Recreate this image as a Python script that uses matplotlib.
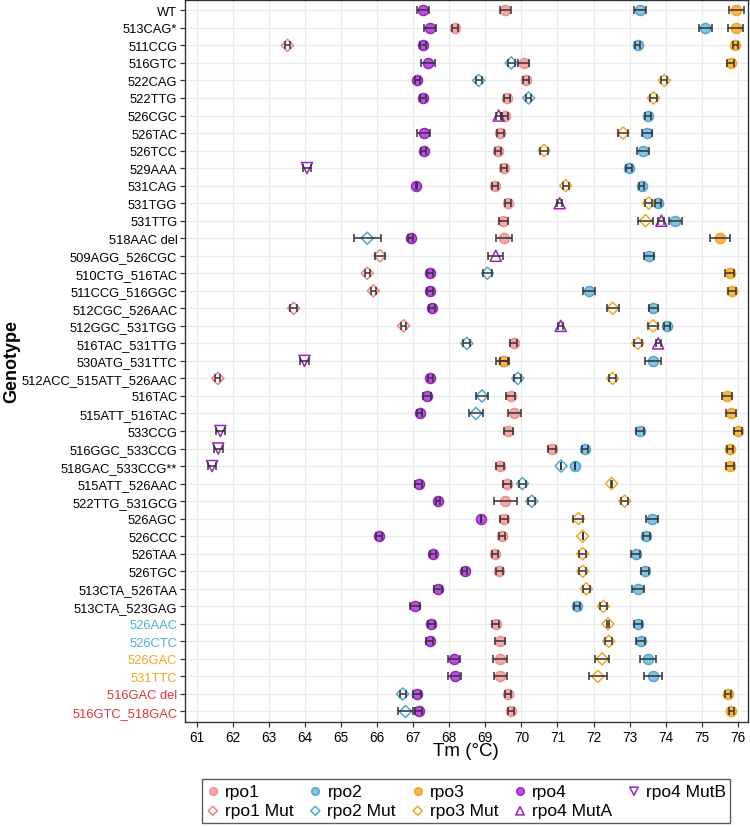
import numpy as np
import matplotlib
matplotlib.use("Agg")
import matplotlib.pyplot as plt

plt.rcParams['font.family'] = ['Liberation Sans', 'DejaVu Sans']

genotypes = ["WT", "513CAG*", "511CCG", "516GTC", "522CAG", "522TTG", "526CGC",
             "526TAC", "526TCC", "529AAA", "531CAG", "531TGG", "531TTG",
             "518AAC del", "509AGG_526CGC", "510CTG_516TAC", "511CCG_516GGC",
             "512CGC_526AAC", "512GGC_531TGG", "516TAC_531TTG", "530ATG_531TTC",
             "512ACC_515ATT_526AAC", "516TAC", "515ATT_516TAC", "533CCG",
             "516GGC_533CCG", "518GAC_533CCG**", "515ATT_526AAC", "522TTG_531GCG",
             "526AGC", "526CCC", "526TAA", "526TGC", "513CTA_526TAA",
             "513CTA_523GAG", "526AAC", "526CTC", "526GAC", "531TTC",
             "516GAC del", "516GTC_518GAC"]

label_colors = {"526AAC": "#4DAFD6", "526CTC": "#4DAFD6",
                "526GAC": "#F5A623", "531TTC": "#F5A623",
                "516GAC del": "#E0363C", "516GTC_518GAC": "#E0363C"}

# (genotype, mean Tm, sd)
rpo1 = [("WT", 69.56, 0.16), ("513CAG*", 68.16, 0.08), ("516GTC", 70.06, 0.14),
        ("522CAG", 70.12, 0.08), ("522TTG", 69.60, 0.08), ("526CGC", 69.55, 0.08),
        ("526TAC", 69.42, 0.09), ("526TCC", 69.36, 0.08), ("529AAA", 69.52, 0.08),
        ("531CAG", 69.26, 0.08), ("531TGG", 69.62, 0.08), ("531TTG", 69.50, 0.13),
        ("518AAC del", 69.52, 0.21), ("516TAC_531TTG", 69.79, 0.10),
        ("530ATG_531TTC", 69.48, 0.18), ("516TAC", 69.70, 0.13),
        ("515ATT_516TAC", 69.81, 0.18), ("533CCG", 69.64, 0.12),
        ("516GGC_533CCG", 70.84, 0.11), ("518GAC_533CCG**", 69.41, 0.12),
        ("515ATT_526AAC", 69.60, 0.10), ("522TTG_531GCG", 69.56, 0.32),
        ("526AGC", 69.52, 0.12), ("526CCC", 69.47, 0.08), ("526TAA", 69.26, 0.08),
        ("526TGC", 69.39, 0.10), ("526AAC", 69.29, 0.10), ("526CTC", 69.41, 0.13),
        ("526GAC", 69.41, 0.20), ("531TTC", 69.42, 0.17),
        ("516GAC del", 69.62, 0.08), ("516GTC_518GAC", 69.71, 0.08)]

rpo2 = [("WT", 73.28, 0.16), ("513CAG*", 75.09, 0.18), ("511CCG", 73.22, 0.08),
        ("526CGC", 73.50, 0.08), ("526TAC", 73.49, 0.14), ("526TCC", 73.37, 0.17),
        ("529AAA", 72.98, 0.08), ("531CAG", 73.33, 0.08), ("531TGG", 73.78, 0.08),
        ("531TTG", 74.27, 0.17), ("509AGG_526CGC", 73.54, 0.13),
        ("511CCG_516GGC", 71.87, 0.17), ("512CGC_526AAC", 73.66, 0.12),
        ("512GGC_531TGG", 74.04, 0.08), ("530ATG_531TTC", 73.64, 0.22),
        ("533CCG", 73.29, 0.12), ("516GGC_533CCG", 71.76, 0.08),
        ("518GAC_533CCG**", 71.49, 0.0), ("526AGC", 73.62, 0.18),
        ("526CCC", 73.46, 0.10), ("526TAA", 73.17, 0.12), ("526TGC", 73.43, 0.12),
        ("513CTA_526TAA", 73.23, 0.16), ("513CTA_523GAG", 71.54, 0.08),
        ("526AAC", 73.23, 0.10), ("526CTC", 73.31, 0.12), ("526GAC", 73.50, 0.22),
        ("531TTC", 73.64, 0.25)]

rpo3 = [("WT", 75.96, 0.22), ("513CAG*", 75.94, 0.21), ("511CCG", 75.93, 0.06),
        ("516GTC", 75.80, 0.10), ("518AAC del", 75.50, 0.28),
        ("510CTG_516TAC", 75.77, 0.12), ("511CCG_516GGC", 75.83, 0.11),
        ("530ATG_531TTC", 69.52, 0.12), ("516TAC", 75.70, 0.14),
        ("515ATT_516TAC", 75.81, 0.13), ("533CCG", 75.99, 0.11),
        ("516GGC_533CCG", 75.79, 0.08), ("518GAC_533CCG**", 75.77, 0.11),
        ("516GAC del", 75.73, 0.08), ("516GTC_518GAC", 75.82, 0.08)]

rpo4 = [("WT", 67.28, 0.16), ("513CAG*", 67.46, 0.17), ("511CCG", 67.28, 0.08),
        ("516GTC", 67.41, 0.19), ("522CAG", 67.12, 0.08), ("522TTG", 67.27, 0.08),
        ("526TAC", 67.29, 0.17), ("526TCC", 67.29, 0.08), ("531CAG", 67.09, 0.02),
        ("518AAC del", 66.93, 0.08), ("510CTG_516TAC", 67.46, 0.08),
        ("511CCG_516GGC", 67.46, 0.08), ("512CGC_526AAC", 67.53, 0.08),
        ("512ACC_515ATT_526AAC", 67.48, 0.08), ("516TAC", 67.38, 0.11),
        ("515ATT_516TAC", 67.18, 0.08), ("515ATT_526AAC", 67.16, 0.10),
        ("522TTG_531GCG", 67.69, 0.05), ("526AGC", 68.89, 0.0),
        ("526CCC", 66.06, 0.08), ("526TAA", 67.56, 0.08), ("526TGC", 68.43, 0.07),
        ("513CTA_526TAA", 67.69, 0.10), ("513CTA_523GAG", 67.06, 0.14),
        ("526AAC", 67.50, 0.10), ("526CTC", 67.46, 0.10), ("526GAC", 68.13, 0.16),
        ("531TTC", 68.15, 0.19), ("516GAC del", 67.11, 0.10),
        ("516GTC_518GAC", 67.16, 0.10)]

rpo1_mut = [("511CCG", 63.52, 0.08), ("509AGG_526CGC", 66.08, 0.13),
            ("510CTG_516TAC", 65.73, 0.07), ("511CCG_516GGC", 65.90, 0.08),
            ("512CGC_526AAC", 63.69, 0.10), ("512GGC_531TGG", 66.74, 0.07),
            ("512ACC_515ATT_526AAC", 61.59, 0.07)]

rpo2_mut = [("516GTC", 69.72, 0.10), ("522CAG", 68.82, 0.08), ("522TTG", 70.20, 0.08),
            ("518AAC del", 65.73, 0.38), ("510CTG_516TAC", 69.06, 0.12),
            ("516TAC_531TTG", 68.49, 0.10), ("512ACC_515ATT_526AAC", 69.90, 0.10),
            ("516TAC", 68.91, 0.17), ("515ATT_516TAC", 68.74, 0.20),
            ("518GAC_533CCG**", 71.10, 0.0), ("515ATT_526AAC", 70.03, 0.10),
            ("522TTG_531GCG", 70.29, 0.10), ("516GAC del", 66.71, 0.08),
            ("516GTC_518GAC", 66.79, 0.20)]

rpo3_mut = [("522CAG", 73.96, 0.08), ("522TTG", 73.66, 0.10), ("526TAC", 72.82, 0.14),
            ("526TCC", 70.63, 0.12), ("531CAG", 71.23, 0.08), ("531TGG", 73.53, 0.10),
            ("531TTG", 73.44, 0.20), ("512CGC_526AAC", 72.53, 0.17),
            ("512GGC_531TGG", 73.65, 0.13), ("516TAC_531TTG", 73.23, 0.10),
            ("512ACC_515ATT_526AAC", 72.53, 0.10), ("515ATT_526AAC", 72.50, 0.02),
            ("522TTG_531GCG", 72.86, 0.10), ("526AGC", 71.58, 0.14),
            ("526CCC", 71.70, 0.0), ("526TAA", 71.70, 0.10), ("526TGC", 71.70, 0.10),
            ("513CTA_526TAA", 71.80, 0.10), ("513CTA_523GAG", 72.27, 0.10),
            ("526AAC", 72.40, 0.03), ("526CTC", 72.42, 0.10), ("526GAC", 72.24, 0.20),
            ("531TTC", 72.12, 0.24)]

rpo4_muta = [("526CGC", 69.37, 0.07), ("531TGG", 71.06, 0.08), ("531TTG", 73.88, 0.08),
             ("509AGG_526CGC", 69.29, 0.21), ("512GGC_531TGG", 71.09, 0.07),
             ("516TAC_531TTG", 73.79, 0.07)]

rpo4_mutb = [("529AAA", 64.06, 0.10), ("530ATG_531TTC", 63.99, 0.12),
             ("533CCG", 61.66, 0.12), ("516GGC_533CCG", 61.60, 0.12),
             ("518GAC_533CCG**", 61.43, 0.12)]

# label, data, marker, face, edge
series = [
    ("rpo1", rpo1, "o", "#F7A9A9", "#EE8E8E"),
    ("rpo1 Mut", rpo1_mut, "D", "none", "#F08080"),
    ("rpo2", rpo2, "o", "#85C5E2", "#4FA8D2"),
    ("rpo2 Mut", rpo2_mut, "D", "none", "#4FA8D2"),
    ("rpo3", rpo3, "o", "#F9BA45", "#EFA325"),
    ("rpo3 Mut", rpo3_mut, "D", "none", "#F5A623"),
    ("rpo4", rpo4, "o", "#BB52E2", "#9A22C6"),
    ("rpo4 MutA", rpo4_muta, "^", "none", "#9A22C6"),
    ("rpo4 MutB", rpo4_mutb, "v", "none", "#9A22C6"),
]
msize = {"o": 7.2, "D": 6.2, "^": 8, "v": 8}

ypos = {g: i for i, g in enumerate(genotypes)}

fig = plt.figure(figsize=(7.5, 8.28), dpi=100)
ax = fig.add_axes([185 / 750, 1 - 723 / 828, 563 / 750, 723 / 828 - 0.001])

handles = []
for label, data, marker, face, edge in series:
    y = np.array([ypos[d[0]] for d in data])
    x = np.array([d[1] for d in data])
    e = np.array([d[2] for d in data])
    h = ax.scatter(x, y, marker=marker, s=msize[marker] ** 2, facecolors=face,
                   edgecolors=edge, linewidths=1.1, zorder=3, label=label)
    handles.append(h)
    ax.errorbar(x, y, xerr=e, fmt="none", ecolor="#333333", elinewidth=1.1,
                capsize=2.6, capthick=1.1, zorder=4)

ax.set_xlim(60.68, 76.28)
ax.set_ylim(len(genotypes) - 0.4, -0.6)
ax.set_xticks(np.arange(61, 77))
ax.set_yticks(range(len(genotypes)))
ax.set_yticklabels(genotypes)
for t in ax.get_yticklabels():
    t.set_color(label_colors.get(t.get_text(), "black"))
ax.tick_params(axis="both", length=3.5, width=0.9, color="#333333", pad=2)
ax.tick_params(axis="y", labelsize=9.3)
ax.tick_params(axis="x", labelsize=9.8)
ax.grid(True, color="#EBEBEB", linewidth=0.8, zorder=0)
ax.set_axisbelow(True)
for s in ax.spines.values():
    s.set_color("#333333")
    s.set_linewidth(1.0)

fig.text(466 / 750, 1 - 752 / 828, "Tm (°C)", ha="center", va="center", fontsize=13.5)
fig.text(12 / 750, 1 - 362 / 828, "Genotype", ha="center", va="center", rotation=90,
         fontsize=13, fontweight="bold")

leg = fig.legend(handles=handles, loc="center", bbox_to_anchor=(466 / 750, 1 - 802 / 828),
                 ncol=5, fontsize=12.5, frameon=True, fancybox=False, edgecolor="#333333",
                 handletextpad=0.3, columnspacing=0.85, borderpad=0.25, labelspacing=0.25,
                 handlelength=0.8, markerscale=0.75, borderaxespad=0)
leg.get_frame().set_linewidth(1.0)

fig.savefig("out.png", dpi=100)
